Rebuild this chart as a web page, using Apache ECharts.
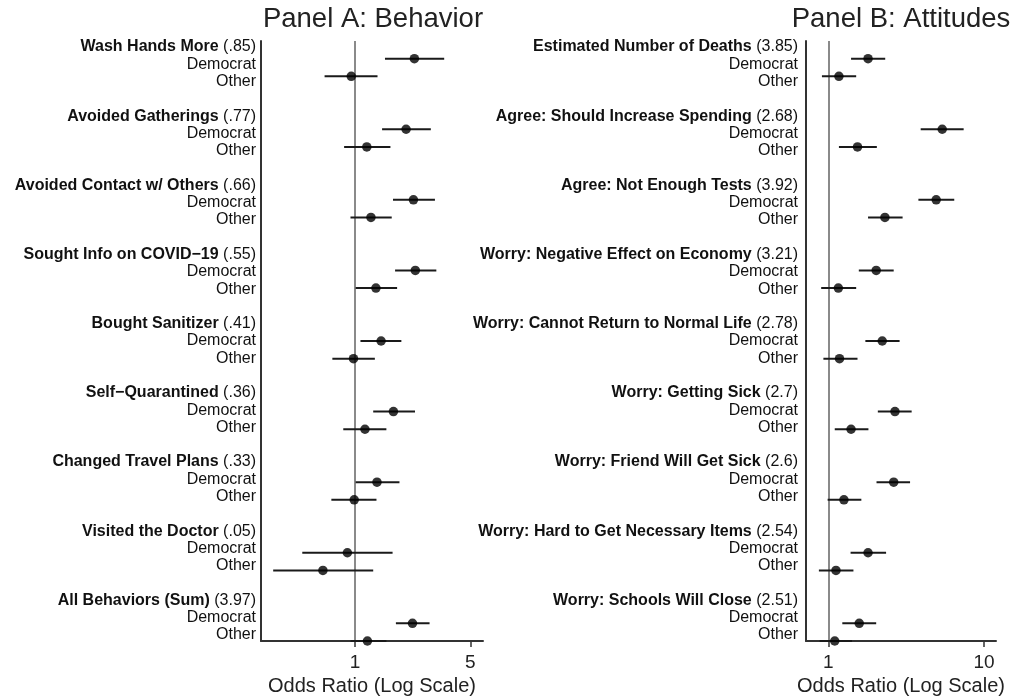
<!DOCTYPE html>
<html><head><meta charset="utf-8">
<script src="https://cdn.jsdelivr.net/npm/echarts@6/dist/echarts.min.js"></script>
<style>html,body{margin:0;padding:0;background:#fff}#c{width:1023px;height:698px}</style>
</head><body><div id="c"></div><script>
// ---- Panel A: Behavior ----
const behaviorItems = ['Wash Hands More','Avoided Gatherings','Avoided Contact w/ Others','Sought Info on COVID\u221219','Bought Sanitizer','Self\u2212Quarantined','Changed Travel Plans','Visited the Doctor','All Behaviors (Sum)'];
const behaviorMeans = ['(.85)','(.77)','(.66)','(.55)','(.41)','(.36)','(.33)','(.05)','(3.97)'];
const behaviorDem   = [2.29, 2.04, 2.26, 2.32, 1.44, 1.71, 1.36, 0.90, 2.23];
const behaviorDemLo = [1.52, 1.46, 1.70, 1.75, 1.08, 1.29, 1.01, 0.48, 1.77];
const behaviorDemHi = [3.47, 2.88, 3.05, 3.11, 1.91, 2.31, 1.86, 1.69, 2.83];
const behaviorOth   = [0.95, 1.18, 1.25, 1.34, 0.98, 1.15, 0.99, 0.64, 1.19];
const behaviorOthLo = [0.655,0.86, 0.94, 1.01, 0.73, 0.85, 0.72, 0.32, 0.94];
const behaviorOthHi = [1.37, 1.64, 1.67, 1.80, 1.32, 1.55, 1.35, 1.29, 1.55];
const behaviorTicks = [1, 5];

// ---- Panel B: Attitudes ----
const attitudeItems = ['Estimated Number of Deaths','Agree: Should Increase Spending','Agree: Not Enough Tests','Worry: Negative Effect on Economy','Worry: Cannot Return to Normal Life','Worry: Getting Sick','Worry: Friend Will Get Sick','Worry: Hard to Get Necessary Items','Worry: Schools Will Close'];
const attitudeMeans = ['(3.85)','(2.68)','(3.92)','(3.21)','(2.78)','(2.7)','(2.6)','(2.54)','(2.51)'];
const attitudeDem   = [1.80, 5.39, 4.93, 2.03, 2.22, 2.68, 2.63, 1.80, 1.58];
const attitudeDemLo = [1.40, 3.92, 3.79, 1.57, 1.73, 2.08, 2.04, 1.39, 1.23];
const attitudeDemHi = [2.32, 7.40, 6.44, 2.63, 2.87, 3.43, 3.35, 2.35, 2.03];
const attitudeOth   = [1.17, 1.54, 2.31, 1.16, 1.18, 1.40, 1.26, 1.12, 1.10];
const attitudeOthLo = [0.91, 1.17, 1.80, 0.90, 0.93, 1.10, 0.99, 0.87, 0.88];
const attitudeOthHi = [1.51, 2.05, 3.00, 1.51, 1.54, 1.81, 1.63, 1.45, 1.42];
const attitudeTicks = [1, 10];

const groupLabels = ['Democrat', 'Other'];
const FONT = '"Liberation Sans", Arial, Helvetica, sans-serif';

function buildLabels(items, means) {
  const out = [];
  items.forEach((it, g) => {
    out.push('{b|' + it + '}{n| ' + means[g] + '}');
    out.push(groupLabels[0]);
    out.push(groupLabels[1]);
    if (g < items.length - 1) out.push('');
  });
  return out;
}
const labelsA = buildLabels(behaviorItems, behaviorMeans);
const labelsB = buildLabels(attitudeItems, attitudeMeans);
const nRows = labelsA.length; // 35
const rowIdx = labelsA.map((_, i) => i);

function pts(vals, off) { return vals.map((v, g) => [v, g * 4 + off]); }
function bars(lo, hi, off) { return lo.map((l, g) => [l, hi[g], g * 4 + off]); }

function errBar(params, api) {
  const y = api.value(2);
  const p1 = api.coord([api.value(0), y]);
  const p2 = api.coord([api.value(1), y]);
  return { type: 'line', shape: { x1: p1[0], y1: p1[1], x2: p2[0], y2: p2[1] },
           style: { stroke: '#1a1a1a', lineWidth: 2 } };
}

const chart = echarts.init(document.getElementById('c'), null, { renderer: 'canvas' });

function xAxisDef(gi, min, max, ticks) {
  return {
    type: 'log', logBase: 10, gridIndex: gi, min: min, max: max,
    name: 'Odds Ratio (Log Scale)', nameLocation: 'middle', nameGap: 30,
    nameTextStyle: { fontSize: 20, color: '#222', fontFamily: FONT },
    axisLine: { onZero: false, lineStyle: { color: '#333', width: 2 } },
    axisTick: { length: 6, customValues: ticks, lineStyle: { color: '#333', width: 1.5 } },
    axisLabel: { customValues: ticks, fontSize: 19, color: '#222', margin: 12, fontFamily: FONT },
    minorTick: { show: false }, splitLine: { show: false }
  };
}
function yDataAxis(gi) {
  return {
    type: 'value', gridIndex: gi, inverse: true, min: 0, max: nRows - 1, position: 'left',
    axisLine: { show: true, onZero: false, lineStyle: { color: '#333', width: 2 } },
    axisTick: { show: false }, axisLabel: { show: false }, splitLine: { show: false }
  };
}
function yLabelAxis(gi, labels, margin) {
  return {
    type: 'value', gridIndex: gi, inverse: true, min: -0.347, max: nRows - 1 + 0.347, position: 'left',
    axisLine: { show: false, onZero: false }, axisTick: { show: false }, splitLine: { show: false },
    axisLabel: {
      customValues: rowIdx, margin: margin, fontSize: 16, color: '#111', fontFamily: FONT,
      formatter: v => labels[Math.round(v)] || '',
      rich: {
        b: { fontWeight: 'bold', fontSize: 16, color: '#111', fontFamily: FONT },
        n: { fontWeight: 'normal', fontSize: 16, color: '#111', fontFamily: FONT }
      }
    }
  };
}

function panelSeries(xi, yi, dem, demLo, demHi, oth, othLo, othHi) {
  return [
    { type: 'custom', xAxisIndex: xi, yAxisIndex: yi, renderItem: errBar,
      encode: { x: [0, 1], y: 2 }, data: bars(demLo, demHi, 1), z: 2, silent: true },
    { type: 'custom', xAxisIndex: xi, yAxisIndex: yi, renderItem: errBar,
      encode: { x: [0, 1], y: 2 }, data: bars(othLo, othHi, 2), z: 2, silent: true },
    { type: 'scatter', xAxisIndex: xi, yAxisIndex: yi, data: pts(dem, 1), symbol: 'circle', symbolSize: 9.5,
      itemStyle: { color: '#000' }, z: 3, silent: true,
      markLine: { silent: true, symbol: ['none', 'none'], z: 1, label: { show: false },
        lineStyle: { color: '#8a8a8a', width: 2, type: 'solid' }, data: [{ xAxis: 1 }] } },
    { type: 'scatter', xAxisIndex: xi, yAxisIndex: yi, data: pts(oth, 2), symbol: 'circle', symbolSize: 9.5,
      itemStyle: { color: '#000' }, z: 3, silent: true }
  ];
}

const option = {
  animation: false,
  backgroundColor: '#fff',
  textStyle: { fontFamily: FONT },
  graphic: [
    { type: 'text', x: 373, y: 19, style: { text: 'Panel A: Behavior', font: '27.5px ' + FONT, fill: '#222', textAlign: 'center', textVerticalAlign: 'middle' } },
    { type: 'text', x: 901, y: 19, style: { text: 'Panel B: Attitudes', font: '27.5px ' + FONT, fill: '#222', textAlign: 'center', textVerticalAlign: 'middle' } }
  ],
  grid: [
    { left: 261, right: 1023 - 483, top: 41, bottom: 698 - 641, containLabel: false, outerBoundsMode: 'none' },
    { left: 806, right: 1023 - 996, top: 41, bottom: 698 - 641, containLabel: false, outerBoundsMode: 'none' }
  ],
  xAxis: [ xAxisDef(0, 0.27, 5.96, behaviorTicks), xAxisDef(1, 0.719, 11.94, attitudeTicks) ],
  yAxis: [ yDataAxis(0), yLabelAxis(0, labelsA, 5), yDataAxis(1), yLabelAxis(1, labelsB, 8) ],
  series: [].concat(
    panelSeries(0, 0, behaviorDem, behaviorDemLo, behaviorDemHi, behaviorOth, behaviorOthLo, behaviorOthHi),
    panelSeries(1, 2, attitudeDem, attitudeDemLo, attitudeDemHi, attitudeOth, attitudeOthLo, attitudeOthHi)
  )
};
chart.setOption(option);
</script></body></html>
